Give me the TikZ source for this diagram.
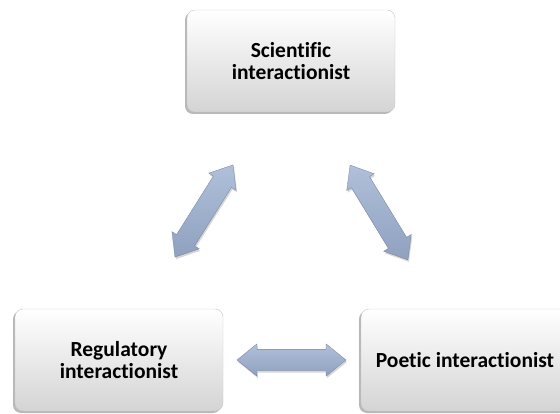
\documentclass[tikz,border=0pt]{standalone}
\usepackage{fontspec}
\setmainfont{Carlito}[Ligatures=NoCommon]
\usetikzlibrary{shapes.arrows,shadows}
\definecolor{boxbot}{HTML}{D4D4D4}
\definecolor{boxedge}{HTML}{C8C8C8}
\definecolor{arrowdark}{HTML}{8FA1BF}
\definecolor{arrowmid}{HTML}{B0C0DA}
\definecolor{arrowlight}{HTML}{E8EEF8}
\tikzset{
  panel/.style={
    rectangle, rounded corners=8pt,
    minimum width=208pt, minimum height=102pt,
    top color=white, bottom color=boxbot,
    draw=boxedge, line width=0.4pt,
    general shadow={fill=black, opacity=0.28, shadow xshift=-2pt, shadow yshift=-2pt},
    font=\fontsize{21.5}{22}\selectfont\bfseries, align=center, text=black
  },
  dblarrow/.style={
    double arrow, inner xsep=0pt, inner ysep=10.5pt,
    text height=0pt, text depth=0pt, text width=0pt,
    double arrow head extend=5.5pt,
    double arrow tip angle=78,
    top color=arrowmid, middle color=arrowlight, bottom color=arrowdark,
    draw=arrowdark!80!black, line width=0.3pt,
    general shadow={fill=black, opacity=0.16, shadow xshift=1pt, shadow yshift=-2pt}
  }
}
\begin{document}
\begin{tikzpicture}[x=1pt,y=-1pt]
  \useasboundingbox (0,0) rectangle (560,414);
  \clip (0,0) rectangle (560,414);
  % the three positions
  \node[panel] (sci) at (291,61) {Scientific\\interactionist};
  \node[panel] (reg) at (119,360) {Regulatory\\interactionist};
  \node[panel] (poe) at (465,360) {Poetic interactionist};
  % two-way arrows between them
  \node[dblarrow, minimum height=109pt, rotate=57.8] (sr) at (204,211) {};
  \node[dblarrow, minimum height=111pt, rotate=-58.6] (sp) at (379,212.5) {};
  \node[dblarrow, minimum height=109pt] (rp) at (291.5,360) {};
\end{tikzpicture}
\end{document}
